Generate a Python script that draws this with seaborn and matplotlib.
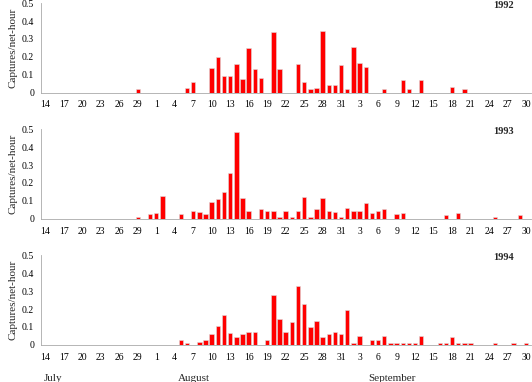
import numpy as np
import pandas as pd
import seaborn as sns
import matplotlib.pyplot as plt

# Capturas por hora-red, 14 julio - 30 septiembre (solo días con capturas)
days = pd.date_range('2000-07-14', '2000-09-30')
tick_labels = [str(d.day) for d in days[::3]]
months = ['July', 'August', 'September']
month_pos = [1.3, 24.1, 56.3]

dates_1992 = ['07-29', '08-06', '08-07', '08-10', '08-11', '08-12', '08-13', '08-14',
              '08-15', '08-16', '08-17', '08-18', '08-20', '08-21', '08-24', '08-25',
              '08-26', '08-27', '08-28', '08-29', '08-30', '08-31', '09-01', '09-02',
              '09-03', '09-04', '09-07', '09-10', '09-11', '09-13', '09-18', '09-20']
rates_1992 = [0.022, 0.027, 0.061, 0.137, 0.202, 0.093, 0.093, 0.161,
              0.078, 0.250, 0.130, 0.083, 0.337, 0.133, 0.159, 0.063,
              0.020, 0.028, 0.343, 0.041, 0.046, 0.156, 0.020, 0.256,
              0.165, 0.146, 0.019, 0.069, 0.019, 0.074, 0.035, 0.019]

dates_1993 = ['07-29', '07-31', '08-01', '08-02', '08-05', '08-07', '08-08', '08-09',
              '08-10', '08-11', '08-12', '08-13', '08-14', '08-15', '08-16', '08-18',
              '08-19', '08-20', '08-21', '08-22', '08-23', '08-24', '08-25', '08-26',
              '08-27', '08-28', '08-29', '08-30', '08-31', '09-01', '09-02', '09-03',
              '09-04', '09-05', '09-06', '09-07', '09-09', '09-10', '09-17', '09-19',
              '09-25', '09-29']
rates_1993 = [0.013, 0.026, 0.030, 0.126, 0.026, 0.043, 0.039, 0.026,
              0.094, 0.113, 0.150, 0.256, 0.483, 0.117, 0.046, 0.056,
              0.046, 0.046, 0.013, 0.046, 0.013, 0.046, 0.122, 0.013,
              0.056, 0.119, 0.044, 0.039, 0.013, 0.061, 0.046, 0.046,
              0.091, 0.035, 0.044, 0.056, 0.026, 0.030, 0.019, 0.030,
              0.013, 0.019]

dates_1994 = ['08-05', '08-06', '08-08', '08-09', '08-10', '08-11', '08-12', '08-13',
              '08-14', '08-15', '08-16', '08-17', '08-19', '08-20', '08-21', '08-22',
              '08-23', '08-24', '08-25', '08-26', '08-27', '08-28', '08-29', '08-30',
              '08-31', '09-01', '09-02', '09-03', '09-05', '09-06', '09-07', '09-08',
              '09-09', '09-10', '09-11', '09-12', '09-13', '09-16', '09-17', '09-18',
              '09-19', '09-20', '09-21', '09-25', '09-28', '09-30']
rates_1994 = [0.030, 0.011, 0.017, 0.030, 0.063, 0.107, 0.169, 0.069,
              0.043, 0.059, 0.072, 0.072, 0.030, 0.278, 0.146, 0.072,
              0.126, 0.326, 0.230, 0.100, 0.133, 0.043, 0.059, 0.072,
              0.059, 0.194, 0.011, 0.048, 0.030, 0.030, 0.048, 0.011,
              0.011, 0.011, 0.011, 0.011, 0.048, 0.011, 0.011, 0.044,
              0.011, 0.011, 0.011, 0.011, 0.011, 0.011]

years = {'1992': (dates_1992, rates_1992),
         '1993': (dates_1993, rates_1993),
         '1994': (dates_1994, rates_1994)}

sns.set_style('white')
plt.rcParams['font.family'] = ['Liberation Serif', 'DejaVu Serif']

fig = plt.figure(figsize=(5.32, 3.82), dpi=100)
tops = [0.992, 0.662, 0.332]
h = 0.235
grey = '#aaaaaa'

for (yr, (dts, vals)), top in zip(years.items(), tops):
    ax = fig.add_axes([0.077, top - h, 0.921, h])
    df = pd.DataFrame({'date': pd.to_datetime(['2000-' + d for d in dts]), 'rate': vals})
    df['idx'] = (df['date'] - days[0]).dt.days
    sns.barplot(data=df, x='idx', y='rate', native_scale=True, color='#ff0000',
                saturation=1, width=0.72, edgecolor='#dddddd', linewidth=0.4, ax=ax)
    ax.set_xlim(-0.7, 78.8)
    ax.set_ylim(0, 0.5)
    ax.set_xticks(np.arange(0, 79, 3))
    ax.set_xticklabels(tick_labels)
    ax.set_xticks(np.arange(0, 79), minor=True)
    ax.set_yticks(np.arange(0, 0.51, 0.1))
    ax.set_yticklabels(['0', '0.1', '0.2', '0.3', '0.4', '0.5'])
    ax.tick_params(axis='both', which='both', labelsize=7, color=grey, width=0.6,
                   colors='black')
    ax.tick_params(axis='x', which='both', length=2, direction='out', color=grey, pad=3.5)
    ax.tick_params(axis='y', length=3, color=grey, pad=2)
    for s in ['top', 'right']:
        ax.spines[s].set_visible(False)
    for s in ['left', 'bottom']:
        ax.spines[s].set_color(grey)
        ax.spines[s].set_linewidth(0.6)
        ax.spines[s].set_linestyle((0, (4, 1)))
    ax.set_xlabel('')
    ax.set_ylabel('Captures/net-hour', fontsize=8, labelpad=3)
    ax.text(74.4, 0.485, yr, fontsize=7.5, fontweight='bold', ha='center', va='center')

for name, pos in zip(months, month_pos):
    ax.text(pos, -0.37, name, fontsize=8, ha='center', va='center',
            transform=ax.get_xaxis_transform())

fig.savefig('out.png', dpi=100)
